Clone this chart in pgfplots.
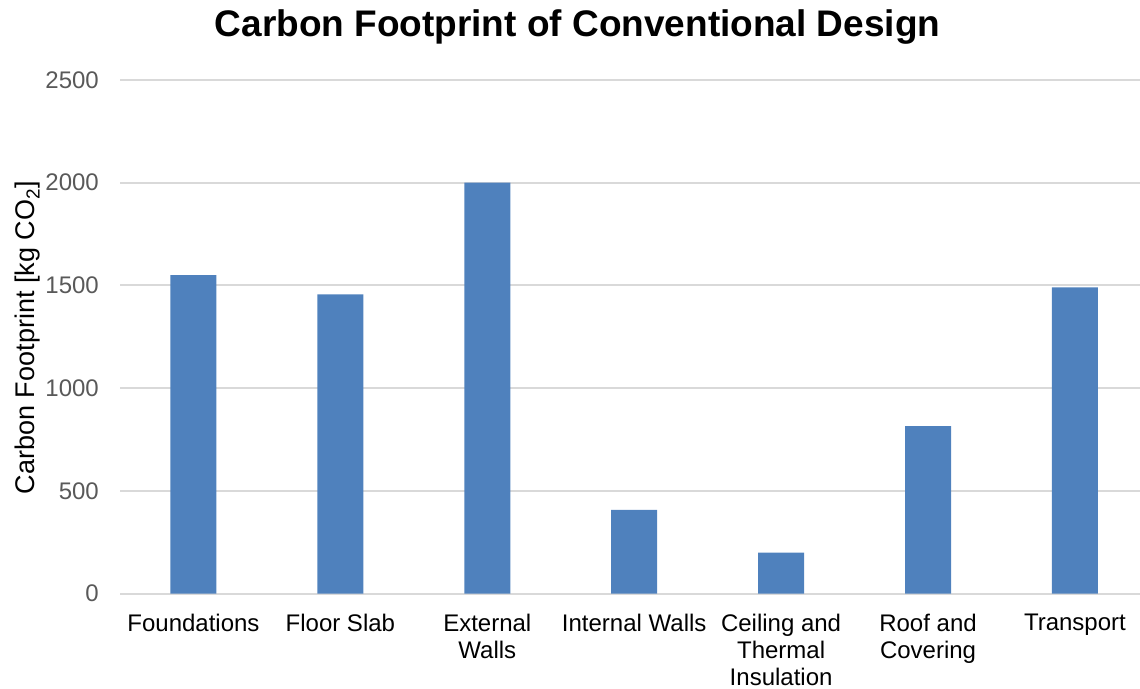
\documentclass[border=0pt]{standalone}
\usepackage{pgfplots}
\pgfplotsset{compat=1.18}
\usepackage{fontspec}
\setmainfont{Liberation Sans}
\definecolor{barblue}{HTML}{4F81BD}
\definecolor{gridgray}{HTML}{D9D9D9}
\definecolor{ticktxt}{HTML}{595959}
\begin{document}
\begin{tikzpicture}[x=1pt,y=1pt]
\useasboundingbox (0,0) rectangle (1140,-688);
\begin{axis}[
  at={(120pt,-593.6pt)}, anchor=south west,
  scale only axis, width=1020pt, height=513.6pt,
  ybar, bar width=46pt, bar shift=0pt,
  xmin=-0.5, xmax=6.443, ymin=0, ymax=2500,
  xtick={0,1,2,3,4,5,6},
  xticklabels={Foundations, Floor Slab, {External\\Walls}, Internal Walls, {Ceiling and\\Thermal\\Insulation}, {Roof and\\Covering}, Transport},
  ytick={0,500,1000,1500,2000,2500},
  /pgf/number format/assume math mode=true,
  /pgf/number format/1000 sep={},
  axis line style={draw=none},
  axis x line*=bottom,
  major tick length=0pt,
  tick style={draw=none},
  ymajorgrids, grid style={gridgray, line width=2pt},
  yticklabel style={font=\fontsize{24}{27}\selectfont, text=ticktxt, inner sep=0pt, xshift=-21pt},
  xticklabel style={font=\fontsize{24}{27}\selectfont, text=black, align=center, inner sep=0pt, anchor=north, yshift=-20pt},
  clip=false,
]
\addplot[fill=barblue, draw=none] coordinates {(0,1550) (1,1456) (2,2000) (3,407) (4,199) (5,815) (6,1490)};
\end{axis}
\node[font=\fontsize{37}{40}\selectfont\bfseries] at (577.5,-27) {Carbon Footprint of Conventional Design};
\node[rotate=90, font=\fontsize{27}{30}\selectfont] at (28,-337.7) {Carbon Footprint [kg CO\textsubscript{2}]};
\end{tikzpicture}
\end{document}
